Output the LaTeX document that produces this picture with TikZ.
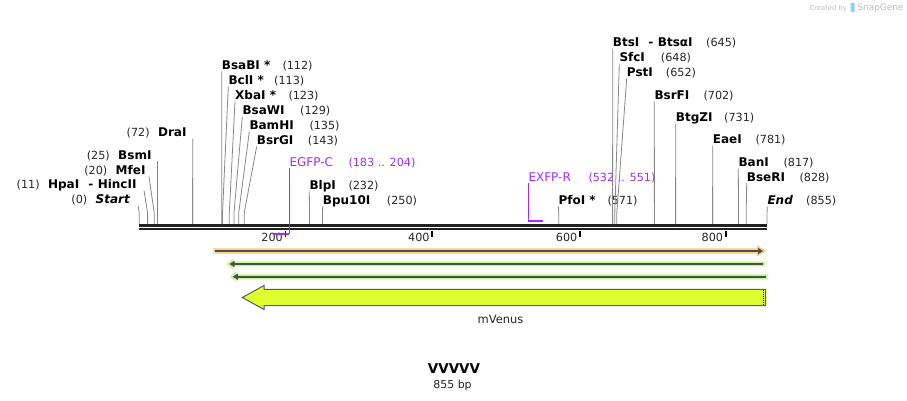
\documentclass[tikz,border=0pt]{standalone}
\usepackage{fontspec}
\setmainfont{DejaVu Sans}
\usetikzlibrary{arrows.meta,calc}
\definecolor{sitegray}{RGB}{135,135,135}
\definecolor{primer}{RGB}{163,45,240}
\definecolor{bb}{RGB}{34,34,34}
\definecolor{orangeband}{RGB}{250,204,128}
\definecolor{greenband}{RGB}{190,246,140}
\definecolor{featline}{RGB}{78,78,78}
\definecolor{venus}{RGB}{224,255,46}
\definecolor{venusedge}{RGB}{90,90,90}
\definecolor{wm}{RGB}{188,188,188}
\definecolor{wmblue}{RGB}{150,205,240}
\tikzset{
  ename/.style={font=\fontsize{12}{14}\selectfont\bfseries, inner sep=0pt, anchor=base west, text=black},
  enum/.style={font=\fontsize{11.2}{13}\selectfont, inner sep=0pt, anchor=base west, text=black!85},
  siteline/.style={draw=sitegray, line width=0.8pt},
  pname/.style={font=\fontsize{12}{14}\selectfont, inner sep=0pt, anchor=base west, text=primer},
  pnum/.style={font=\fontsize{11.2}{13}\selectfont, inner sep=0pt, anchor=base west, text=primer},
  pline/.style={draw=primer, line width=1.1pt},
  pbar/.style={draw=primer, line width=2pt},
  backbone/.style={draw=bb, line width=2.6pt},
  backbonetwo/.style={draw=bb, line width=2pt},
  tickmark/.style={draw=black, line width=1.8pt},
  ticklabel/.style={font=\fontsize{11.2}{13}\selectfont, inner sep=0pt, anchor=base east, text=black!85},
  featdark/.style={draw=featline, line width=2pt},
}
% right-side enzyme label: id, x, y, name, number x, number, site
\newcommand\RLabel[7]{%
  \node[ename] (n#1) at (#2,#3+4.4) {#4};
  \node[enum] (m#1) at (#5,#3+4.4) {#6};
  \draw[siteline] ($(n#1.base west)+(0,2)$) -- ([yshift=11pt]s#7) -- (s#7);
}
% left-side enzyme label: id, x end, y, name, number, dx, site
\newcommand\LLabel[7]{%
  \node[ename, anchor=base east] (n#1) at (#2,#3+4.4) {#4};
  \node[enum, anchor=base east] (m#1) at ([xshift=-8pt]n#1.base west) {#5};
  \draw[siteline] ($(n#1.base east)+(#6,2)$) -- ([yshift=11pt]s#7) -- (s#7);
}
\begin{document}
\begin{tikzpicture}[x=1pt,y=-1pt]
\useasboundingbox (0,0) rectangle (907,400);
\fill[white] (0,0) rectangle (907,400);

% site coordinates on the backbone
\foreach \n/\x in {0/139.3, 11/147.6, 20/154.2, 25/157.3, 72/192.6, 112/221.8, 113/222.5,
  123/229.3, 129/234.0, 135/238.7, 143/244.2, 232/309.5, 250/322.5, 571/558.7,
  645/612.6, 648/614.8, 652/616.8, 702/654.4, 731/675.6, 781/712.6, 817/738.5,
  828/746.2, 855/767.0}
  {\coordinate (s\n) at (\x,224);}

% backbone
\coordinate (bbL) at (139.3,225.5);
\coordinate (bbR) at (767.3,225.5);
\draw[backbone] (bbL) -- (bbR);
\draw[backbonetwo] ([yshift=-3.8pt]bbL) -- ([yshift=-3.8pt]bbR);

% ticks
\foreach \t/\x in {200/285.5, 400/432.3, 600/580.0, 800/725.8}{
  \coordinate (t\t) at (\x,230.5);
  \draw[tickmark] (t\t) -- ++(0,6.5);
  \node[ticklabel] (tl\t) at ([xshift=-2.5pt]\x,241.5) {\t};
}

% left labels
\LLabel{Start}{130}{199.3}{\itshape Start}{(0)}{8}{0}
\LLabel{Hpa}{136.7}{184}{HpaI\hspace{9pt}-\hspace{4.5pt}HincII}{(11)}{7.3}{11}
\LLabel{Mfe}{145.7}{170}{MfeI}{(20)}{3.3}{20}
\LLabel{Bsm}{151.7}{155}{BsmI}{(25)}{5.6}{25}
\LLabel{Dra}{186.7}{132.3}{DraI}{(72)}{6}{72}

% right labels
\RLabel{BsaBI}{221.7}{65}{BsaBI *}{282.3}{(112)}{112}
\RLabel{BclI}{228.3}{80}{BclI *}{274}{(113)}{113}
\RLabel{XbaI}{235}{95}{XbaI *}{288.3}{(123)}{123}
\RLabel{BsaWI}{242.3}{110.5}{BsaWI}{300}{(129)}{129}
\RLabel{BamHI}{249.3}{125.3}{BamHI}{309.3}{(135)}{135}
\RLabel{BsrGI}{256.7}{140}{BsrGI}{307.7}{(143)}{143}
\RLabel{BlpI}{309.3}{185}{BlpI}{348.3}{(232)}{232}
\RLabel{Bpu}{322.7}{200}{Bpu10I}{386.7}{(250)}{250}
\RLabel{PfoI}{558.3}{200}{PfoI *}{607.3}{(571)}{571}
\RLabel{BtsI}{612.7}{42.3}{BtsI\hspace{9pt}-\hspace{4.5pt}BtsαI}{706}{(645)}{645}
\RLabel{SfcI}{619.3}{57.3}{SfcI}{660.7}{(648)}{648}
\RLabel{PstI}{626.7}{72.3}{PstI}{665.7}{(652)}{652}
\RLabel{BsrFI}{654.3}{95}{BsrFI}{703.3}{(702)}{702}
\RLabel{BtgZI}{675.7}{117.3}{BtgZI}{724}{(731)}{731}
\RLabel{EaeI}{712.7}{139.3}{EaeI}{755.3}{(781)}{781}
\RLabel{BanI}{738.3}{162.3}{BanI}{783.3}{(817)}{817}
\RLabel{BseRI}{746.7}{176.7}{BseRI}{799.3}{(828)}{828}
\RLabel{End}{767.3}{200}{\itshape End}{806}{(855)}{855}

% primer EGFP-C
\node[pname] (pEGFP) at (289.3,161.7+4.4) {EGFP-C};
\node[pnum] (pEGFPn) at (348.3,161.7+4.4) {(183 .. 204)};
\coordinate (egfpA) at (273.5,233.7);
\coordinate (egfpB) at (289.3,233.7);
\draw[pline] ($(pEGFP.base west)+(0,2)$) -- (egfpB);
\draw[pbar] (egfpB) -- (egfpA);

% primer EXFP-R
\node[pname] (pEXFP) at (528.3,176.7+4.4) {EXFP-R};
\node[pnum] (pEXFPn) at (588.3,176.7+4.4) {(532 .. 551)};
\coordinate (exfpA) at (528.3,221);
\coordinate (exfpB) at (542.7,221);
\draw[pline] ($(pEXFP.base west)+(0,2)$) -- (exfpA);
\draw[pbar] ([xshift=-0.5pt]exfpA) -- (exfpB);

% orange feature (forward)
\fill[orangeband] (213.3,248.3) -- (757,248.3) -- (757,245.3) -- (766,251) -- (757,256.7)
  -- (757,253.7) -- (213.3,253.7) -- cycle;
\draw[featdark, -{Triangle[length=5pt,width=6pt]}] (214.8,251) -- (763,251);

% green feature 1 (reverse)
\fill[greenband] (226.7,264) -- (233,258.8) -- (233,261.7) -- (765,261.7) -- (765,266.3)
  -- (233,266.3) -- (233,269.2) -- cycle;
\draw[featdark, -{Triangle[length=5pt,width=6pt]}] (762.5,264) -- (229.5,264);

% green feature 2 (reverse)
\fill[greenband] (230,276.7) -- (236.3,271.5) -- (236.3,274.4) -- (767.7,274.4) -- (767.7,279)
  -- (236.3,279) -- (236.3,281.9) -- cycle;
\draw[featdark, -{Triangle[length=5pt,width=6pt]}] (766,276.7) -- (232.8,276.7);

% mVenus
\filldraw[fill=venus, draw=venusedge, line width=1pt, line join=miter]
  (242.3,297.5) -- (264,285.5) -- (264,289.3) -- (765.7,289.3) -- (765.7,305.7)
  -- (264,305.7) -- (264,309.5) -- cycle;
\draw[black, line width=0.8pt, dash pattern=on 1pt off 1pt] (763.4,290) -- (763.4,305);
\node[font=\fontsize{11.5}{13}\selectfont, inner sep=0pt, text=black!85] (venuslabel) at (500.5,319) {mVenus};

% title
\node[font=\fontsize{13.5}{15}\selectfont\bfseries, inner sep=0pt] (title) at (454,369) {VVVVV};
\node[font=\fontsize{11}{13}\selectfont, inner sep=0pt, anchor=base, text=black!85] (size) at (452.5,388) {855 bp};

% watermark
\node[font=\fontsize{6.8}{8}\selectfont, inner sep=0pt, anchor=base west, text=wm] (wm1) at (809.3,10) {Created by};
\fill[wmblue, rounded corners=1pt] (850.5,2.5) rectangle (854.5,12);
\node[font=\fontsize{8.9}{10}\selectfont, inner sep=0pt, anchor=base west, text=wm] (wm2) at (857.3,10.5) {SnapGene};
\end{tikzpicture}
\end{document}
